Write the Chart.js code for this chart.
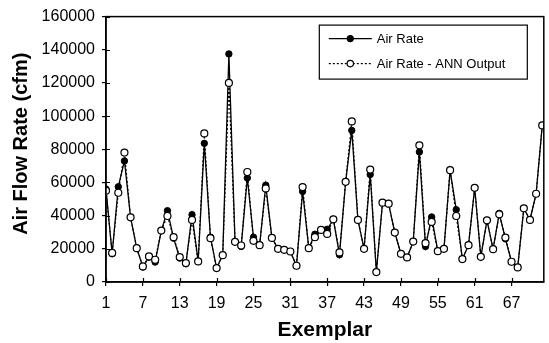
<!DOCTYPE html>
<html>
<head>
<meta charset="utf-8">
<title>Air Flow Rate by Exemplar</title>
<script src="https://cdn.jsdelivr.net/npm/chart.js@4.4.1/dist/chart.umd.min.js"></script>
<style>
  html, body { margin: 0; padding: 0; background: #fff; }
  #wrap { width: 549px; height: 343px; }
</style>
</head>
<body>
<div id="wrap"><canvas id="chart" width="549" height="343"></canvas></div>
<script>
/* ---------- data ---------- */

const exemplarCount = 72;

const airRate = [
  56000, 17000, 57400, 73000, 39000, 20400, 9000, 15000, 12000, 31000,
  43000, 26400, 14400, 11000, 40600, 12400, 83600, 27000, 8400, 16200,
  137500, 24200, 21400, 62700, 27000, 22200, 58400, 26600, 20000, 19400,
  18400, 9800, 54600, 20400, 28800, 31400, 31800, 37800, 16400, 60400,
  91400, 37400, 20000, 64800, 6000, 47800, 47000, 29800, 17000, 14800,
  24400, 78400, 21400, 39200, 18600, 20000, 67400, 43600, 13800, 22200,
  56800, 15200, 37200, 19800, 41400, 26000, 12200, 8800, 44400, 37400,
  53200, 94400
];

const annOutput = [
  55000, 17500, 53800, 78000, 39000, 20400, 9400, 15400, 13400, 31000,
  39800, 27000, 15000, 11400, 37400, 12400, 89600, 26400, 8400, 16200,
  120000, 24200, 22000, 66300, 24800, 22200, 56400, 26600, 20000, 19400,
  18400, 9800, 57200, 20400, 27000, 31400, 29000, 37800, 17800, 60400,
  96800, 37400, 20000, 67800, 6000, 47800, 47200, 29800, 17000, 14800,
  24400, 82400, 23400, 36200, 18600, 20000, 67400, 39800, 13800, 22200,
  56800, 15200, 37200, 19800, 40800, 26800, 12200, 8800, 44400, 37400,
  53200, 94400
];

const xTickValues = [1, 7, 13, 19, 25, 31, 37, 43, 49, 55, 61, 67];
const yTickValues = [0, 20000, 40000, 60000, 80000, 100000, 120000, 140000, 160000];

const seriesNames = ['Air Rate', 'Air Rate - ANN Output'];

/* ---------- chart ---------- */

const FONT = '"Liberation Sans", Arial, Helvetica, sans-serif';

const toPoints = arr => arr.map((v, i) => ({ x: i + 1, y: v }));

// ticks crossing the axis lines, the box frame and the legend
const framePlugin = {
  id: 'frame',
  afterDraw(chart) {
    const { ctx, chartArea: a, scales } = chart;
    ctx.save();
    ctx.strokeStyle = '#000';
    ctx.lineWidth = 1.2;

    // inner halves of the tick marks
    ctx.beginPath();
    xTickValues.forEach(v => {
      const px = Math.round(scales.x.getPixelForValue(v)) + 0.5;
      ctx.moveTo(px, a.bottom);
      ctx.lineTo(px, a.bottom - 4);
    });
    yTickValues.forEach(v => {
      const py = Math.round(scales.y.getPixelForValue(v)) + 0.5;
      ctx.moveTo(a.left, py);
      ctx.lineTo(a.left + 4, py);
    });
    ctx.stroke();

    // frame
    ctx.lineWidth = 1.5;
    ctx.strokeRect(a.left, a.top, a.right - a.left, a.bottom - a.top);

    // legend
    const bx = a.right - 225, by = a.top + 8, bw = 208, bh = 54;
    ctx.lineWidth = 1.2;
    ctx.fillStyle = '#fff';
    ctx.fillRect(bx, by, bw, bh);
    ctx.strokeRect(bx + 0.5, by + 0.5, bw, bh);

    const rows = [
      { y: by + 14, dash: [], fill: '#000', r: 3 },
      { y: by + 39, dash: [2, 2], fill: '#fff', r: 3.2 }
    ];
    ctx.font = '13px ' + FONT;
    ctx.textBaseline = 'middle';
    rows.forEach((row, i) => {
      ctx.setLineDash(row.dash);
      ctx.lineWidth = 1.2;
      ctx.beginPath();
      ctx.moveTo(bx + 10, row.y);
      ctx.lineTo(bx + 53, row.y);
      ctx.stroke();
      ctx.setLineDash([]);
      ctx.beginPath();
      ctx.arc(bx + 31.5, row.y, row.r, 0, Math.PI * 2);
      ctx.fillStyle = row.fill;
      ctx.fill();
      ctx.stroke();
      ctx.fillStyle = '#000';
      ctx.fillText(seriesNames[i], bx + 58, row.y + 1);
    });
    ctx.restore();
  }
};

new Chart(document.getElementById('chart'), {
  type: 'line',
  data: {
    datasets: [
      {
        label: seriesNames[0],
        data: toPoints(airRate),
        borderColor: '#000',
        borderWidth: 1.3,
        pointRadius: 3.2,
        pointBackgroundColor: '#000',
        pointBorderColor: '#000',
        pointBorderWidth: 1,
        tension: 0,
        order: 2
      },
      {
        label: seriesNames[1],
        data: toPoints(annOutput),
        borderColor: '#000',
        borderWidth: 1.2,
        borderDash: [2, 2],
        pointRadius: 3.5,
        pointBackgroundColor: '#fff',
        pointBorderColor: '#000',
        pointBorderWidth: 1.2,
        tension: 0,
        order: 1
      }
    ]
  },
  options: {
    responsive: false,
    animation: false,
    devicePixelRatio: 1,
    layout: { padding: { top: 16, right: 4, left: 0, bottom: 0 } },
    plugins: {
      legend: { display: false },
      tooltip: { enabled: false }
    },
    scales: {
      x: {
        type: 'linear',
        min: 1,
        max: exemplarCount + 0.25,
        afterBuildTicks: scale => {
          scale.ticks = xTickValues.map(v => ({ value: v }));
        },
        afterFit: scale => { scale.height = 61; },
        grid: { drawOnChartArea: false, tickLength: 4, color: '#000', lineWidth: 1.2 },
        border: { color: '#000', width: 1.5 },
        ticks: {
          color: '#000',
          font: { family: FONT, size: 16 },
          padding: 8,
          maxRotation: 0,
          callback: v => String(v)
        },
        title: {
          display: true,
          text: 'Exemplar',
          color: '#000',
          font: { family: FONT, size: 21, weight: 'bold' },
          padding: { top: 0, bottom: 0 }
        }
      },
      y: {
        min: 0,
        max: 160000,
        afterBuildTicks: scale => {
          scale.ticks = yTickValues.map(v => ({ value: v }));
        },
        afterFit: scale => { scale.width = 106; },
        grid: { drawOnChartArea: false, tickLength: 4, color: '#000', lineWidth: 1.2 },
        border: { color: '#000', width: 1.5 },
        ticks: {
          color: '#000',
          font: { family: FONT, size: 16 },
          padding: 7,
          callback: v => String(v)
        },
        title: {
          display: true,
          text: '  Air Flow Rate (cfm)',
          color: '#000',
          font: { family: FONT, size: 20, weight: 'bold' },
          padding: { top: 9, bottom: 0 }
        }
      }
    }
  },
  plugins: [framePlugin]
});
</script>
</body>
</html>
